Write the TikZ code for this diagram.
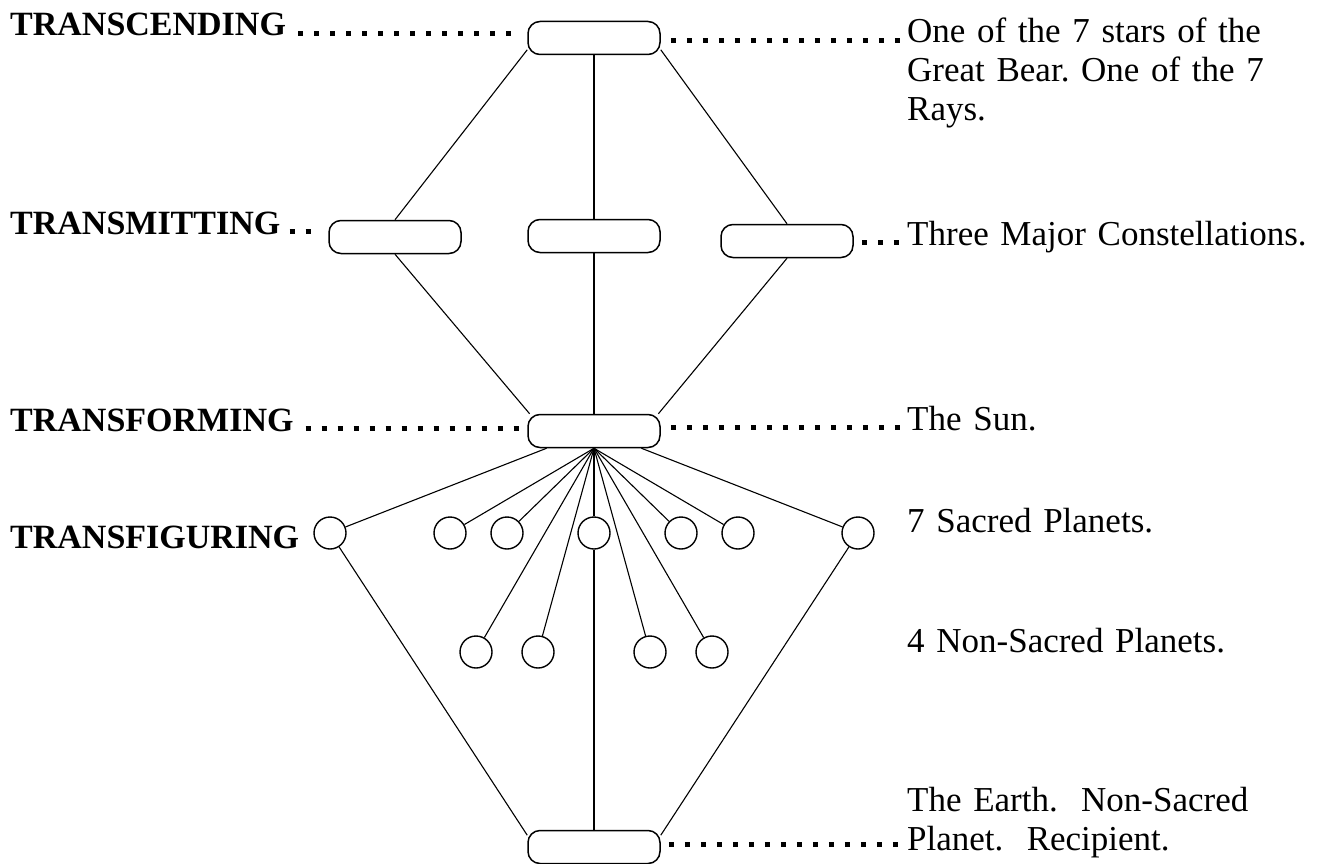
\documentclass[tikz,border=0pt]{standalone}
\usepackage{fontspec}
\setmainfont{Liberation Serif}
\usetikzlibrary{positioning,calc}
\frenchspacing

\begin{document}
\begin{tikzpicture}[x=1pt, y=-1pt,
  body/.style={draw, line width=1.5pt, rounded corners=12pt,
    minimum width=132pt, minimum height=33pt, inner sep=0pt},
  planet/.style={draw, circle, line width=1.4pt, minimum size=32pt,
    inner sep=0pt},
  level/.style={anchor=base west, inner sep=0pt,
    font=\fontsize{34}{38}\selectfont\bfseries},
  note/.style={anchor=base west, inner sep=0pt, text width=410pt,
    align=left, font=\fontsize{35}{39}\selectfont},
  rel/.style={line width=1.1pt},
  spine/.style={line width=1.7pt},
  leader/.style={line width=5pt, dash pattern=on 5pt off 11pt,
    transform canvas={yshift=2.5pt}}
]
\useasboundingbox (0,0) rectangle (1319,864);
% Cuerpos
\node[body] (bear) at (594,38) {};
\node[body] (cl) at (395,237) {};
\node[body] (cm) at (594,236) {};
\node[body] (cr) at (787,241) {};
\node[body] (sun) at (594,431) {};
\node[body] (earth) at (594,847) {};
% Planetas
\node[planet] (sp1) at (330,533) {};
\node[planet] (sp2) at (450,533) {};
\node[planet] (sp3) at (507,533) {};
\node[planet] (sp4) at (594,533) {};
\node[planet] (sp5) at (681,533) {};
\node[planet] (sp6) at (738,533) {};
\node[planet] (sp7) at (858,533) {};
\node[planet] (np1) at (476,652) {};
\node[planet] (np2) at (538,652) {};
\node[planet] (np3) at (650,652) {};
\node[planet] (np4) at (712,652) {};
% Niveles
\node[level] (lscend) at (10,36) {TRANSCENDING};
\node[level] (lsmit) at (10,234) {TRANSMITTING};
\node[level] (lsform) at (10,431) {TRANSFORMING};
\node[level] (lsfig) at (10,548) {TRANSFIGURING};
% Notas
\node[note] (nbear) at (907,43) {One of the 7 stars of the\\
Great Bear. One of the 7\\ Rays.};
\node[note] (ncons) at (907,245) {Three Major Constellations.};
\node[note] (nsun) at (907,430) {The Sun.};
\node[note] (nsacred) at (907,532) {7 Sacred Planets.};
\node[note] (nnon) at (907,652) {4 Non-Sacred Planets.};
\node[note] (nearth) at (907,811) {The Earth.~ Non-Sacred\\
Planet.~ Recipient.};
% Puntos guia
\draw[leader, shorten <=12pt, shorten >=6pt] (lscend.base east) -- (lscend.base east -| bear.west);
\draw[leader, shorten <=10pt, shorten >=4pt] (nbear.base west -| bear.east) -- (nbear.base west);
\draw[leader, shorten <=9pt, shorten >=10pt] (lsmit.base east) -- (lsmit.base east -| cl.west);
\draw[leader, shorten <=8pt, shorten >=4pt] (ncons.base west -| cr.east) -- (ncons.base west);
\draw[leader, shorten <=12pt, shorten >=6pt] (lsform.base east) -- (lsform.base east -| sun.west);
\draw[leader, shorten <=10pt, shorten >=4pt] (nsun.base west -| sun.east) -- (nsun.base west);
\draw[leader, shorten <=8pt, shorten >=4pt] (earth.east) -- (earth.east -| nearth.west);
% Relaciones
\draw[rel] (bear.190) -- (cl.north);
\draw[spine] (bear.south) -- (cm.north);
\draw[rel] (bear.-10) -- (cr.north);
\draw[rel] (cl.south) -- (sun.165);
\draw[spine] (cm.south) -- (sun.north);
\draw[rel] (cr.south) -- (sun.15);
\draw[rel] (sun.200) -- (sp1);
\draw[rel] (sun.south) -- (sp2);
\draw[rel] (sun.south) -- (sp3);
\draw[spine] (sun.south) -- (sp4);
\draw[rel] (sun.south) -- (sp5);
\draw[rel] (sun.south) -- (sp6);
\draw[rel] (sun.-20) -- (sp7);
\draw[rel] (sun.south) -- (np1);
\draw[rel] (sun.south) -- (np2);
\draw[rel] (sun.south) -- (np3);
\draw[rel] (sun.south) -- (np4);
\draw[rel] (sp1) -- (earth.170);
\draw[spine] (sp4) -- (earth.north);
\draw[rel] (sp7) -- (earth.10);
\end{tikzpicture}
\end{document}
